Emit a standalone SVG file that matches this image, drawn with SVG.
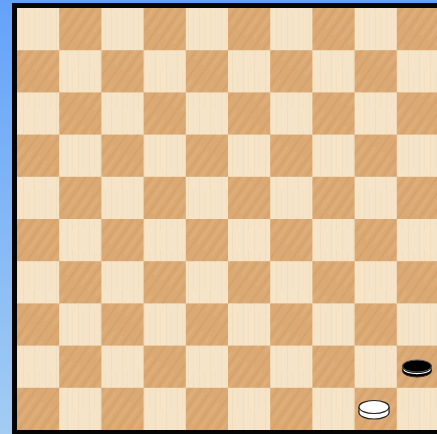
<svg xmlns="http://www.w3.org/2000/svg" width="437" height="434" viewBox="0 0 437 434">
<defs>
<linearGradient id="bg" x1="0" y1="0" x2="0" y2="1">
<stop offset="0" stop-color="#64a2fa"/>
<stop offset="1" stop-color="#a2cdf2"/>
</linearGradient>
<pattern id="lightWood" patternUnits="userSpaceOnUse" width="11" height="60">
<rect width="11" height="60" fill="#f5e4c7"/>
<rect x="1" width="1" height="60" fill="#ecd8b6" opacity="0.5"/>
<rect x="6" y="10" width="1" height="40" fill="#efdcbc" opacity="0.5"/>
</pattern>
<pattern id="darkWood" patternUnits="userSpaceOnUse" width="9" height="50" patternTransform="rotate(35)">
<rect width="9" height="50" fill="#dba973"/>
<rect x="0" width="1.6" height="50" fill="#c8935b" opacity="0.35"/>
<rect x="4.5" y="5" width="1.2" height="32" fill="#e8c291" opacity="0.45"/>
</pattern>
<style>
.d{fill:url(#darkWood)}
</style>
</defs>
<rect width="437" height="434" fill="url(#bg)"/>
<g id="board">
<rect x="12" y="3" width="430" height="436" fill="#050505"/>
<rect x="17" y="8" width="422" height="422" fill="url(#lightWood)"/>
<g id="dark-squares">
<rect class="d" x="59.2" y="8" width="42.2" height="42.2"/><rect class="d" x="143.6" y="8" width="42.2" height="42.2"/><rect class="d" x="228" y="8" width="42.2" height="42.2"/><rect class="d" x="312.4" y="8" width="42.2" height="42.2"/><rect class="d" x="396.8" y="8" width="42.2" height="42.2"/>
<rect class="d" x="17" y="50.2" width="42.2" height="42.2"/><rect class="d" x="101.4" y="50.2" width="42.2" height="42.2"/><rect class="d" x="185.8" y="50.2" width="42.2" height="42.2"/><rect class="d" x="270.2" y="50.2" width="42.2" height="42.2"/><rect class="d" x="354.6" y="50.2" width="42.2" height="42.2"/>
<rect class="d" x="59.2" y="92.4" width="42.2" height="42.2"/><rect class="d" x="143.6" y="92.4" width="42.2" height="42.2"/><rect class="d" x="228" y="92.4" width="42.2" height="42.2"/><rect class="d" x="312.4" y="92.4" width="42.2" height="42.2"/><rect class="d" x="396.8" y="92.4" width="42.2" height="42.2"/>
<rect class="d" x="17" y="134.6" width="42.2" height="42.2"/><rect class="d" x="101.4" y="134.6" width="42.2" height="42.2"/><rect class="d" x="185.8" y="134.6" width="42.2" height="42.2"/><rect class="d" x="270.2" y="134.6" width="42.2" height="42.2"/><rect class="d" x="354.6" y="134.6" width="42.2" height="42.2"/>
<rect class="d" x="59.2" y="176.8" width="42.2" height="42.2"/><rect class="d" x="143.6" y="176.8" width="42.2" height="42.2"/><rect class="d" x="228" y="176.8" width="42.2" height="42.2"/><rect class="d" x="312.4" y="176.8" width="42.2" height="42.2"/><rect class="d" x="396.8" y="176.8" width="42.2" height="42.2"/>
<rect class="d" x="17" y="219" width="42.2" height="42.2"/><rect class="d" x="101.4" y="219" width="42.2" height="42.2"/><rect class="d" x="185.8" y="219" width="42.2" height="42.2"/><rect class="d" x="270.2" y="219" width="42.2" height="42.2"/><rect class="d" x="354.6" y="219" width="42.2" height="42.2"/>
<rect class="d" x="59.2" y="261.2" width="42.2" height="42.2"/><rect class="d" x="143.6" y="261.2" width="42.2" height="42.2"/><rect class="d" x="228" y="261.2" width="42.2" height="42.2"/><rect class="d" x="312.4" y="261.2" width="42.2" height="42.2"/><rect class="d" x="396.8" y="261.2" width="42.2" height="42.2"/>
<rect class="d" x="17" y="303.4" width="42.2" height="42.2"/><rect class="d" x="101.4" y="303.4" width="42.2" height="42.2"/><rect class="d" x="185.8" y="303.4" width="42.2" height="42.2"/><rect class="d" x="270.2" y="303.4" width="42.2" height="42.2"/><rect class="d" x="354.6" y="303.4" width="42.2" height="42.2"/>
<rect class="d" x="59.2" y="345.6" width="42.2" height="42.2"/><rect class="d" x="143.6" y="345.6" width="42.2" height="42.2"/><rect class="d" x="228" y="345.6" width="42.2" height="42.2"/><rect class="d" x="312.4" y="345.6" width="42.2" height="42.2"/><rect class="d" x="396.8" y="345.6" width="42.2" height="42.2"/>
<rect class="d" x="17" y="387.8" width="42.2" height="42.2"/><rect class="d" x="101.4" y="387.8" width="42.2" height="42.2"/><rect class="d" x="185.8" y="387.8" width="42.2" height="42.2"/><rect class="d" x="270.2" y="387.8" width="42.2" height="42.2"/><rect class="d" x="354.6" y="387.8" width="42.2" height="42.2"/>
</g>
</g>
<g id="black-piece">
<ellipse cx="417" cy="371" rx="14.5" ry="6" fill="#000" stroke="#333" stroke-width="1"/>
<rect x="402.5" y="366" width="29" height="5" fill="#000"/>
<path d="M403.5 369.5 A14 5.5 0 0 0 430.5 369.5" fill="none" stroke="#fff" stroke-width="1.3"/>
<ellipse cx="417" cy="366" rx="14.5" ry="6" fill="#000" stroke="#555" stroke-width="1"/>
</g>
<g id="white-piece">
<ellipse cx="374" cy="412.5" rx="15" ry="6.5" fill="#fff" stroke="#222" stroke-width="1.2"/>
<rect x="359" y="407" width="30" height="5.5" fill="#fff"/>
<line x1="359" y1="407" x2="359" y2="412.5" stroke="#222" stroke-width="1.2"/>
<line x1="389" y1="407" x2="389" y2="412.5" stroke="#222" stroke-width="1.2"/>
<ellipse cx="374" cy="407" rx="15" ry="6.5" fill="#fff" stroke="#222" stroke-width="1.2"/>
</g>
</svg>
